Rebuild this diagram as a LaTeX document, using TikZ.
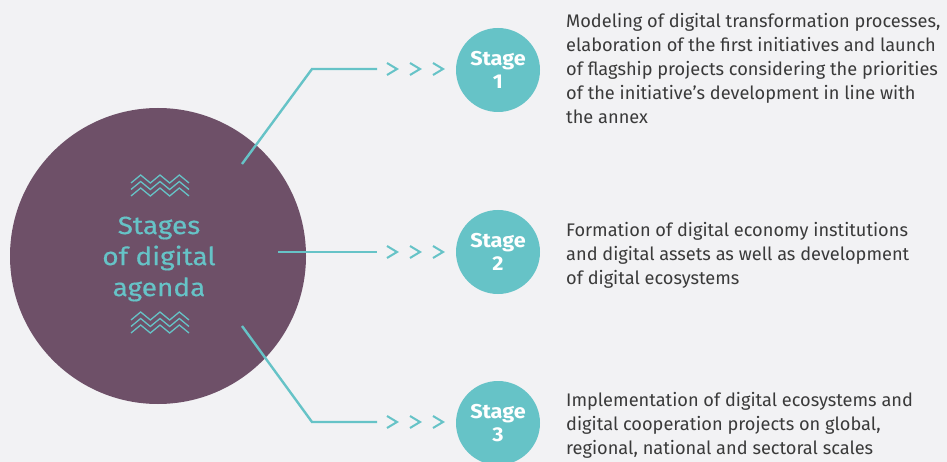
\documentclass[tikz,border=0pt]{standalone}
\usepackage{fontspec}
\setmainfont{Fira Sans}
\newfontfamily\titlefont[FakeStretch=1.12, FakeBold=0.5]{Fira Sans}
\newfontfamily\labelfont[FakeStretch=1.08]{Fira Sans}
\definecolor{bgc}{HTML}{F2F2F4}
\definecolor{plum}{HTML}{6E5068}
\definecolor{aqua}{HTML}{66C3C7}
\definecolor{ink}{HTML}{3A3A3A}
\tikzset{
  link/.style={draw=aqua, line width=2.4pt},
  hub/.style={circle, fill=plum, minimum size=296pt, inner sep=0pt},
  stagebox/.style={circle, fill=aqua, minimum size=84pt, inner sep=0pt, text=white,
    font=\labelfont\bfseries\fontsize{20}{23}\selectfont, align=center},
  desc/.style={anchor=north west, inner sep=0pt, text=ink, align=left,
    font=\fontsize{18.2}{24}\selectfont},
  pics/chev/.style={code={\draw[aqua, line width=2pt] (0,-6) -- (10,0) -- (0,6);}},
  pics/zig/.style={code={
    \foreach \dy in {0,6.5,13}{
      \draw[aqua, line width=1.3pt] (0,8+\dy) -- (9.67,\dy) -- (19.33,8+\dy) -- (29,\dy)
        -- (38.67,8+\dy) -- (48.33,\dy) -- (58,8+\dy);
    }}}
}
\begin{document}
\begin{tikzpicture}[x=1pt,y=-1pt]
\fill[bgc] (0,0) rectangle (947,462);
\useasboundingbox (0,0) rectangle (947,462);

% central hub
\node[hub] (hub) at (158,256) {};
\node[text=aqua, font=\titlefont\fontsize{25}{31}\selectfont, align=center] (title) at (159,259)
  {Stages\\of digital\\agenda};
\pic at (131,175) {zig};
\pic at (131,312) {zig};

% stage circles
\node[stagebox] (s1) at (498,70) {Stage\\1};
\node[stagebox] (s2) at (498,252) {Stage\\2};
\node[stagebox] (s3) at (498,423) {Stage\\3};

% connectors from the hub
\coordinate (a1) at (242,164);
\coordinate (b1) at (312,69);
\coordinate (e1) at (377,69);
\coordinate (a2) at (278,252);
\coordinate (e2) at (377,252);
\coordinate (a3) at (242,326);
\coordinate (b3) at (312,422);
\coordinate (e3) at (377,422);
\draw[link] (a1) -- (b1) -- (e1);
\draw[link] (a2) -- (e2);
\draw[link] (a3) -- (b3) -- (e3);

\foreach \yy in {69,252,422}{
  \foreach \xx in {387,410,433}{
    \pic at (\xx,\yy) {chev};
  }
}

% descriptions
\node[desc] (t1) at (566,13) {Modeling of digital transformation processes,\\
elaboration of the first initiatives and launch\\
of flagship projects considering the priorities\\
of the initiative’s development in line with\\
the annex};
\node[desc] (t2) at (566,222) {Formation of digital economy institutions\\
and digital assets as well as development\\
of digital ecosystems};
\node[desc] (t3) at (566,392) {Implementation of digital ecosystems and\\
digital cooperation projects on global,\\
regional, national and sectoral scales};
\end{tikzpicture}
\end{document}
